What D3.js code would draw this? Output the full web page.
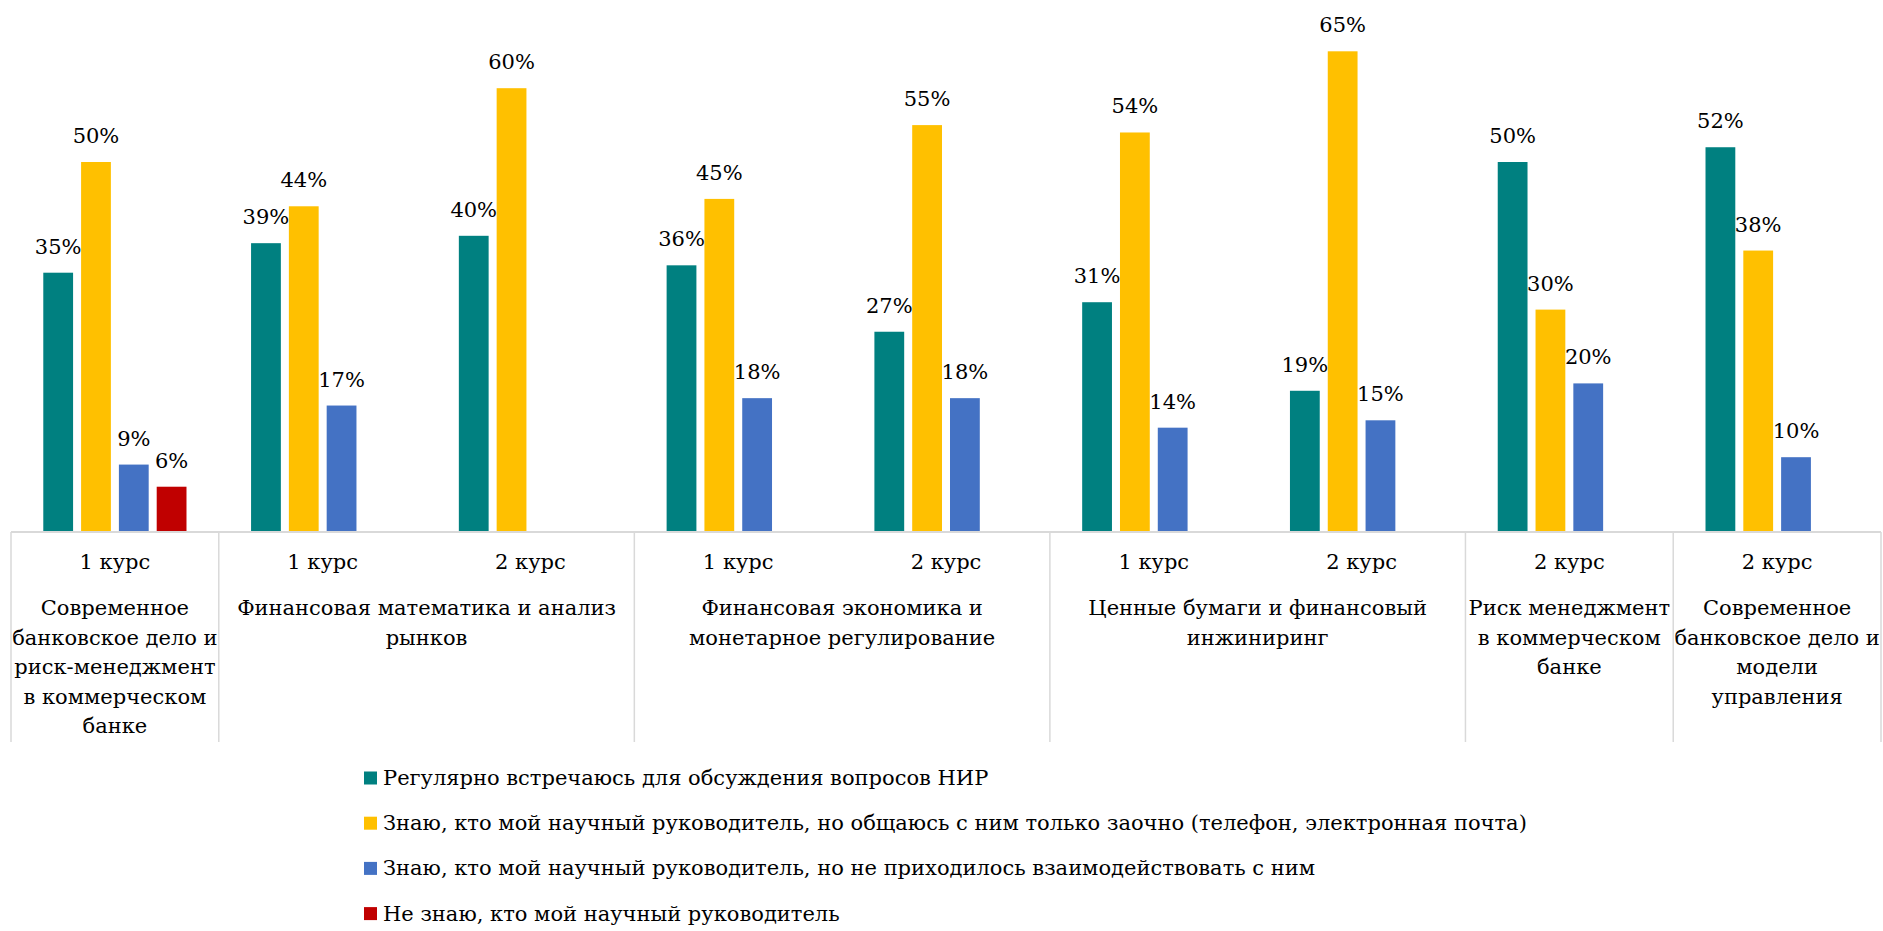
<!DOCTYPE html>
<html>
<head>
<meta charset="utf-8">
<script src="https://cdn.jsdelivr.net/npm/d3@7"></script>
<style>
  html, body { margin: 0; padding: 0; background: #fff; }
  svg { display: block; }
  text { font-family: "DejaVu Serif", "Liberation Serif", serif; fill: #000; }
</style>
</head>
<body>
<svg id="chart" width="1883" height="931"></svg>
<script>
// ---- data ----
const categories = ["1 курс", "1 курс", "2 курс", "1 курс", "2 курс", "1 курс", "2 курс", "2 курс", "2 курс"];
const categoryGroup = [0, 1, 1, 2, 2, 3, 3, 4, 5];
const groupLabels = [
  ["Современное", "банковское дело и", "риск-менеджмент", "в коммерческом", "банке"],
  ["Финансовая математика и анализ", "рынков"],
  ["Финансовая экономика и", "монетарное регулирование"],
  ["Ценные бумаги и финансовый", "инжиниринг"],
  ["Риск менеджмент", "в коммерческом", "банке"],
  ["Современное", "банковское дело и", "модели", "управления"]
];
const seriesNames = [
  "Регулярно встречаюсь для обсуждения вопросов НИР",
  "Знаю, кто мой научный руководитель, но общаюсь с ним только заочно (телефон, электронная почта)",
  "Знаю, кто мой научный руководитель, но не приходилось взаимодействовать с ним",
  "Не знаю, кто мой научный руководитель"
];
const seriesColors = ["#008080", "#FFC000", "#4472C4", "#C00000"];
const regular   = [35, 39, 40, 36, 27, 31, 19, 50, 52];
const remote    = [50, 44, 60, 45, 55, 54, 65, 30, 38];
const noContact = [9, 17, null, 18, 18, 14, 15, 20, 10];
const unknown   = [6, null, null, null, null, null, null, null, null];
const seriesValues = [regular, remote, noContact, unknown];

// ---- layout ----
const svg = d3.select("#chart");
const left = 11, right = 1881, baseY = 531, tableBottom = 742;

const x0 = d3.scaleBand().domain(d3.range(categories.length)).range([left, right]).padding(0);
const x1 = d3.scaleBand().domain(d3.range(seriesValues.length)).range([0, x0.bandwidth()])
  .paddingInner(0.212).paddingOuter(0.854);
const y = d3.scaleLinear().domain([0, 70]).range([baseY, baseY - 70 * 7.38]);

// bars
const barData = [];
seriesValues.forEach((vals, s) => vals.forEach((v, c) => {
  if (v != null) barData.push({ s, c, v });
}));

svg.append("g").selectAll("rect").data(barData).join("rect")
  .attr("x", d => x0(d.c) + x1(d.s))
  .attr("y", d => y(d.v))
  .attr("width", x1.bandwidth())
  .attr("height", d => baseY - y(d.v))
  .attr("fill", d => seriesColors[d.s]);

// data labels
svg.append("g").selectAll("text").data(barData).join("text")
  .attr("x", d => x0(d.c) + x1(d.s) + x1.bandwidth() / 2)
  .attr("y", d => y(d.v) - 19)
  .attr("text-anchor", "middle")
  .style("font-size", "21px")
  .text(d => d.v + "%");

// category table
const grid = svg.append("g").attr("stroke", "#d9d9d9").attr("stroke-width", 2);
grid.append("line").attr("x1", left).attr("x2", right).attr("y1", baseY + 1).attr("y2", baseY + 1);

// group spans
const groupSpans = groupLabels.map((_, g) => {
  const idx = categoryGroup.map((gg, i) => gg === g ? i : -1).filter(i => i >= 0);
  return { g, x0: x0(d3.min(idx)), x1: x0(d3.max(idx)) + x0.bandwidth() };
});
const bounds = [left].concat(groupSpans.map(s => s.x1));
grid.selectAll("line.v").data(bounds).join("line").attr("class", "v")
  .attr("x1", d => d).attr("x2", d => d)
  .attr("y1", baseY + 1).attr("y2", tableBottom)
  .attr("stroke-width", 1.5);

// course labels
const axisG = svg.append("g").style("font-size", "21px");
axisG.selectAll("text.cat").data(categories).join("text").attr("class", "cat")
  .attr("x", (d, i) => x0(i) + x0.bandwidth() / 2)
  .attr("y", 569)
  .attr("text-anchor", "middle")
  .text(d => d);

// group labels
groupSpans.forEach(sp => {
  const t = axisG.append("text")
    .attr("text-anchor", "middle")
    .attr("x", (sp.x0 + sp.x1) / 2)
    .attr("y", 615);
  groupLabels[sp.g].forEach((line, k) => {
    t.append("tspan").attr("x", (sp.x0 + sp.x1) / 2).attr("dy", k === 0 ? 0 : 29.6).text(line);
  });
});

// legend
const legend = svg.append("g").style("font-size", "21px");
const rows = legend.selectAll("g").data(seriesNames).join("g")
  .attr("transform", (d, i) => `translate(364, ${778 + i * 45.2})`);
rows.append("rect").attr("x", 0).attr("y", -6.5).attr("width", 13).attr("height", 13)
  .attr("fill", (d, i) => seriesColors[i]);
rows.append("text").attr("x", 19).attr("y", 7).text(d => d);
</script>
</body>
</html>
